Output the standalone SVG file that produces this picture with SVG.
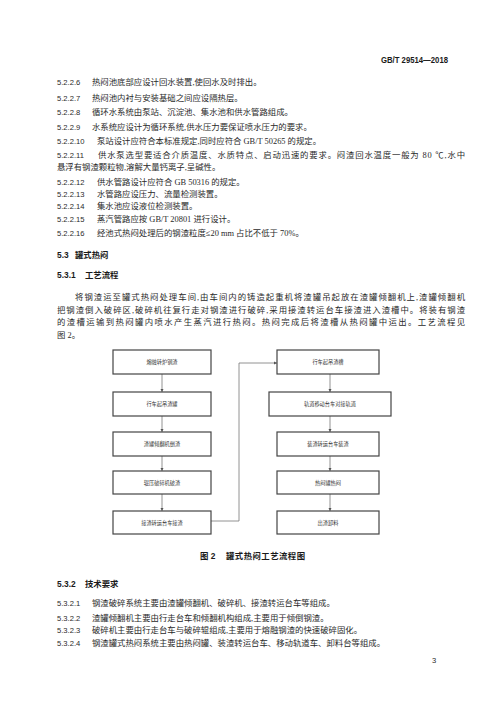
<svg xmlns="http://www.w3.org/2000/svg" width="501" height="710" viewBox="0 0 501 710">
<style>
.t{font-family:"Liberation Serif","Noto Sans CJK SC",serif;font-size:8.4px;fill:#2a2a2a}
.n{font-family:"Liberation Sans","Noto Sans CJK SC",sans-serif;font-size:7.6px;fill:#2a2a2a}
.h{font-family:"Liberation Sans","Noto Sans CJK SC",sans-serif;font-size:8.4px;font-weight:bold;fill:#1a1a1a}
.b{fill:#fff;stroke:#444;stroke-width:1.2}
.bt{font-family:"Noto Sans CJK SC",sans-serif;font-size:5.2px;fill:#333;text-anchor:middle}
.c{fill:none;stroke:#777;stroke-width:0.8}
</style>
<defs>
<marker id="ar" viewBox="0 0 6 6" refX="6" refY="3" markerWidth="4" markerHeight="4" orient="auto">
<path d="M0,0 L6,3 L0,6 z" fill="#555"/>
</marker>
</defs>
<rect width="501" height="710" fill="#fff"/>
<text class="h" x="381" y="63" textLength="67" lengthAdjust="spacingAndGlyphs">GB/T 29514—2018</text>

<g id="text-5222">
<text class="n" x="57" y="85">5.2.2.6</text><text class="t" x="92" y="85">热闷池底部应设计回水装置,使回水及时排出。</text>
<text class="n" x="57" y="101">5.2.2.7</text><text class="t" x="92" y="101">热闷池内衬与安装基础之间应设隔热层。</text>
<text class="n" x="57" y="115">5.2.2.8</text><text class="t" x="92" y="115">循环水系统由泵站、沉淀池、集水池和供水管路组成。</text>
<text class="n" x="57" y="130">5.2.2.9</text><text class="t" x="92" y="130">水系统应设计为循环系统,供水压力要保证喷水压力的要求。</text>
<text class="n" x="57" y="144">5.2.2.10</text><text class="t" x="97" y="144">泵站设计应符合本标准规定,同时应符合 GB/T 50265 的规定。</text>
<text class="n" x="57" y="158">5.2.2.11</text><text class="t" x="98" y="158" textLength="367" lengthAdjust="spacing">供水泵选型要适合介质温度、水质特点、启动迅速的要求。闷渣回水温度一般为 80 ℃,水中</text>
<text class="t" x="57" y="170">悬浮有钢渣颗粒物,溶解大量钙离子,呈碱性。</text>
<text class="n" x="57" y="185">5.2.2.12</text><text class="t" x="97" y="185">供水管路设计应符合 GB 50316 的规定。</text>
<text class="n" x="57" y="197">5.2.2.13</text><text class="t" x="97" y="197">水管路应设压力、流量检测装置。</text>
<text class="n" x="57" y="209">5.2.2.14</text><text class="t" x="97" y="209">集水池应设液位检测装置。</text>
<text class="n" x="57" y="222">5.2.2.15</text><text class="t" x="97" y="222">蒸汽管路应按 GB/T 20801 进行设计。</text>
<text class="n" x="57" y="236">5.2.2.16</text><text class="t" x="97" y="236">经池式热闷处理后的钢渣粒度≤20 mm 占比不低于 70%。</text>
</g>

<g id="text-53">
<text class="h" x="57" y="258">5.3</text><text class="h" x="75" y="258">罐式热闷</text>
<text class="h" x="57" y="278">5.3.1</text><text class="h" x="85" y="278">工艺流程</text>
<text class="t" x="75" y="300" textLength="390" lengthAdjust="spacing">将钢渣运至罐式热闷处理车间,由车间内的铸造起重机将渣罐吊起放在渣罐倾翻机上,渣罐倾翻机</text>
<text class="t" x="57" y="313" textLength="408" lengthAdjust="spacing">把钢渣倒入破碎区,破碎机往复行走对钢渣进行破碎,采用接渣转运台车接渣进入渣槽中。将装有钢渣</text>
<text class="t" x="57" y="325" textLength="408" lengthAdjust="spacing">的渣槽运输到热闷罐内喷水产生蒸汽进行热闷。热闷完成后将渣槽从热闷罐中运出。工艺流程见</text>
<text class="t" x="57" y="338">图 2。</text>
</g>

<g id="connectors">
<line class="c" x1="162" y1="374" x2="162" y2="392" marker-end="url(#ar)"/>
<line class="c" x1="162" y1="416" x2="162" y2="432" marker-end="url(#ar)"/>
<line class="c" x1="162" y1="456" x2="162" y2="471" marker-end="url(#ar)"/>
<line class="c" x1="162" y1="494" x2="162" y2="511" marker-end="url(#ar)"/>
<polyline class="c" points="211,521 239,521 239,363 277,363" marker-end="url(#ar)"/>
<line class="c" x1="330" y1="374" x2="330" y2="392" marker-end="url(#ar)"/>
<line class="c" x1="330" y1="416" x2="330" y2="432" marker-end="url(#ar)"/>
<line class="c" x1="330" y1="456" x2="330" y2="471" marker-end="url(#ar)"/>
<line class="c" x1="330" y1="494" x2="330" y2="511" marker-end="url(#ar)"/>
</g>

<g id="L1"><rect class="b" x="113" y="350" width="98" height="24"/><text class="bt" x="162" y="364">熔融转炉钢渣</text></g>
<g id="L2"><rect class="b" x="113" y="392" width="98" height="24"/><text class="bt" x="162" y="406">行车起吊渣罐</text></g>
<g id="L3"><rect class="b" x="113" y="432" width="98" height="24"/><text class="bt" x="162" y="446">渣罐倾翻机倒渣</text></g>
<g id="L4"><rect class="b" x="113" y="471" width="98" height="23"/><text class="bt" x="162" y="484.5">辊压破碎机破渣</text></g>
<g id="L5"><rect class="b" x="113" y="511" width="98" height="23"/><text class="bt" x="162" y="524.5">接渣转运台车接渣</text></g>

<g id="R1"><rect class="b" x="277" y="350" width="102" height="24"/><text class="bt" x="328" y="364">行车起吊渣槽</text></g>
<g id="R2"><rect class="b" x="269" y="392" width="122" height="24"/><text class="bt" x="330" y="406">轨道移动台车对接轨道</text></g>
<g id="R3"><rect class="b" x="277" y="432" width="102" height="24"/><text class="bt" x="328" y="446">装渣转运台车装渣</text></g>
<g id="R4"><rect class="b" x="277" y="471" width="102" height="23"/><text class="bt" x="328" y="484.5">热闷罐热闷</text></g>
<g id="R5"><rect class="b" x="277" y="511" width="102" height="23"/><text class="bt" x="328" y="524.5">出渣卸料</text></g>

<g id="caption">
<text class="h" x="200" y="559">图 2</text>
<text class="h" x="226" y="559" textLength="79" lengthAdjust="spacing">罐式热闷工艺流程图</text>
</g>

<g id="text-532">
<text class="h" x="57" y="587">5.3.2</text><text class="h" x="85" y="587">技术要求</text>
<text class="n" x="57" y="606">5.3.2.1</text><text class="t" x="92" y="606">钢渣破碎系统主要由渣罐倾翻机、破碎机、接渣转运台车等组成。</text>
<text class="n" x="57" y="621">5.3.2.2</text><text class="t" x="92" y="621">渣罐倾翻机主要由行走台车和倾翻机构组成,主要用于倾倒钢渣。</text>
<text class="n" x="57" y="633">5.3.2.3</text><text class="t" x="92" y="633">破碎机主要由行走台车与破碎辊组成,主要用于熔融钢渣的快速破碎固化。</text>
<text class="n" x="57" y="646">5.3.2.4</text><text class="t" x="92" y="646">钢渣罐式热闷系统主要由热闷罐、装渣转运台车、移动轨道车、卸料台等组成。</text>
<text class="n" x="432" y="663">3</text>
</g>
</svg>
